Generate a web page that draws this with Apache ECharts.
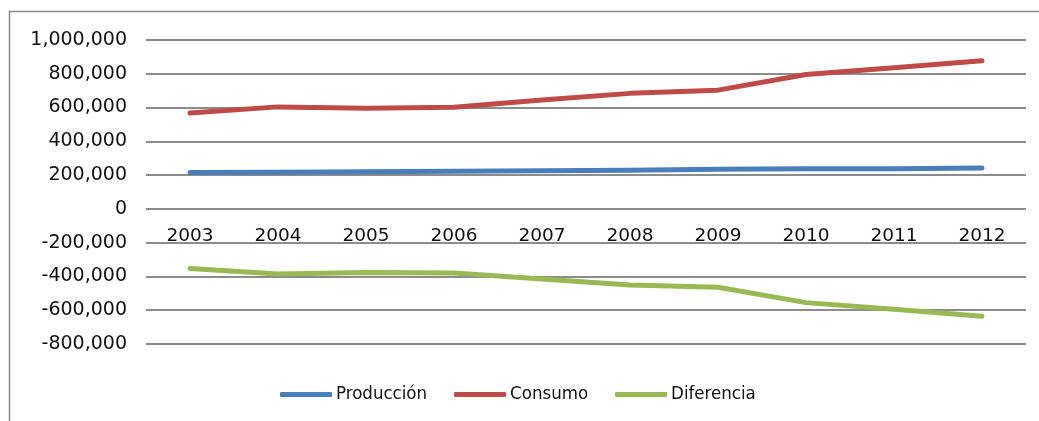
<!DOCTYPE html>
<html>
<head>
<meta charset="utf-8">
<script src="https://cdn.jsdelivr.net/npm/echarts@6/dist/echarts.min.js"></script>
<style>
  html, body { margin: 0; padding: 0; background: #ffffff; }
  #chart { width: 1039px; height: 421px; }
</style>
</head>
<body>
<div id="chart"></div>
<script>
// Years shown on the category axis
const years = ['2003', '2004', '2005', '2006', '2007', '2008', '2009', '2010', '2011', '2012'];

// Series values
const produccion = [215000, 217000, 220000, 223000, 226000, 229000, 235000, 238000, 238000, 242000];
const consumo    = [568000, 604000, 596000, 602000, 645000, 684000, 703000, 796000, 836000, 877000];
const diferencia = [-353000, -385000, -376000, -379000, -415000, -450000, -464000, -555000, -594000, -636000];

// Value axis range
const yMin = -800000;
const yMax = 1000000;
const yStep = 200000;

const seriesNames = ['Producción', 'Consumo', 'Diferencia'];
const seriesColors = ['#4a7ebb', '#be4b48', '#98b954'];

// Plot area
const CHART_H = 421;
const GRID_TOP = 40;
const GRID_BOTTOM = 77;
const gridHeight = CHART_H - GRID_TOP - GRID_BOTTOM;
// Category axis sits on the zero line of the value axis
const zeroOffset = -gridHeight * (0 - yMin) / (yMax - yMin);

const chart = echarts.init(document.getElementById('chart'), null, { renderer: 'canvas' });

function fmt(v) {
  return v.toLocaleString('en-US');
}

function lineSeries(name, data, color) {
  return {
    name: name,
    type: 'line',
    data: data,
    symbol: 'none',
    smooth: false,
    lineStyle: { color: color, width: 5, cap: 'round', join: 'round' },
    itemStyle: { color: color },
    emphasis: { disabled: true }
  };
}

chart.setOption({
  animation: false,
  backgroundColor: '#ffffff',
  graphic: [
    {
      type: 'polyline',
      shape: { points: [[9.5, 421], [9.5, 11.5], [1039, 11.5]] },
      style: { stroke: '#8c8c8c', lineWidth: 1.5, fill: null },
      silent: true
    }
  ],
  grid: { left: 146, right: 13, top: GRID_TOP, bottom: GRID_BOTTOM, containLabel: false },
  legend: {
    data: seriesNames,
    left: 280,
    top: 385,
    padding: 0,
    itemWidth: 52,
    itemHeight: 5,
    itemGap: 27,
    icon: 'roundRect',
    textStyle: { fontFamily: 'DejaVu Sans Condensed', fontSize: 18.5, color: '#111111', padding: [0, 0, 0, -1] },
    selectedMode: false
  },
  xAxis: {
    type: 'category',
    data: years,
    boundaryGap: true,
    offset: zeroOffset,
    axisLine: { show: false, onZero: false },
    axisTick: { show: false },
    axisLabel: { margin: 18, fontFamily: 'DejaVu Sans', fontSize: 18.5, color: '#111111' },
    splitLine: { show: false }
  },
  yAxis: {
    type: 'value',
    min: yMin,
    max: yMax,
    interval: yStep,
    axisLine: { show: false },
    axisTick: { show: false },
    axisLabel: {
      margin: 19,
      fontFamily: 'DejaVu Sans',
      fontSize: 19,
      color: '#111111',
      formatter: fmt
    },
    splitLine: { show: true, lineStyle: { color: '#8c8c8c', width: 2 } }
  },
  series: [
    lineSeries(seriesNames[0], produccion, seriesColors[0]),
    lineSeries(seriesNames[1], consumo, seriesColors[1]),
    lineSeries(seriesNames[2], diferencia, seriesColors[2])
  ]
});
</script>
</body>
</html>
